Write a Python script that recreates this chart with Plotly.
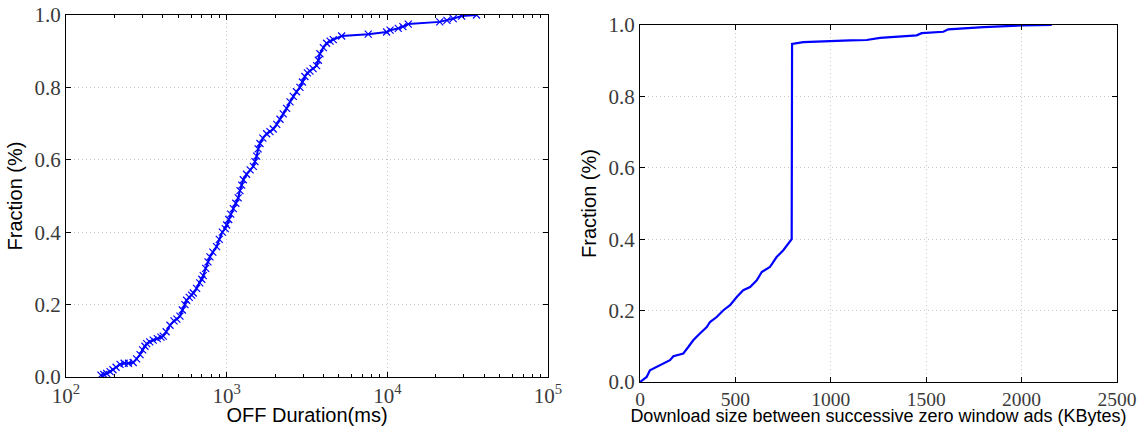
import plotly.graph_objects as go

# Left panel: CDF of OFF duration (ms), log x
off_ms = [165, 172, 179, 188, 196, 205, 217, 230, 245, 262, 275, 289, 300, 310, 318, 332, 349, 370,
          390, 403, 420, 444, 470, 490, 512, 530, 550, 563, 585, 605, 620, 650, 680, 700, 715, 740,
          765, 787, 820, 865, 900, 940, 980, 1000, 1030, 1060, 1100, 1140, 1180, 1210, 1240, 1270,
          1330, 1400, 1465, 1500, 1537, 1570, 1612, 1680, 1773, 1860, 1950, 2050, 2147, 2250, 2362,
          2480, 2598, 2720, 2858, 2960, 3069, 3180, 3298, 3450, 3630, 3720, 3805, 4000, 4188, 4400,
          4607, 5194, 7605, 9900, 10400, 11700, 12500, 13500, 21200, 23500, 25700, 29000, 35900]
off_frac = [0.005, 0.007, 0.010, 0.015, 0.020, 0.027, 0.035, 0.038, 0.038, 0.040, 0.050, 0.062, 0.075,
            0.085, 0.092, 0.097, 0.102, 0.106, 0.110, 0.113, 0.125, 0.143, 0.155, 0.160, 0.168, 0.185,
            0.200, 0.212, 0.220, 0.226, 0.232, 0.245, 0.260, 0.270, 0.280, 0.300, 0.318, 0.332, 0.345,
            0.360, 0.380, 0.400, 0.410, 0.420, 0.435, 0.450, 0.465, 0.480, 0.495, 0.515, 0.530, 0.545,
            0.560, 0.572, 0.582, 0.595, 0.610, 0.630, 0.645, 0.660, 0.672, 0.678, 0.685, 0.698, 0.712,
            0.727, 0.742, 0.760, 0.775, 0.788, 0.800, 0.815, 0.830, 0.840, 0.845, 0.852, 0.860, 0.875,
            0.893, 0.910, 0.922, 0.928, 0.932, 0.942, 0.947, 0.953, 0.958, 0.963, 0.968, 0.975, 0.981,
            0.985, 0.990, 0.997, 1.000]

# Right panel: CDF of download size between successive zero window ads (KBytes)
dl_kb = [0, 35, 52, 87, 122, 157, 175, 227, 253, 279, 314, 350, 367, 402, 437, 472, 507, 541, 577,
         612, 638, 681, 716, 751, 795, 797, 856, 996, 1101, 1188, 1206, 1258, 1450, 1476, 1590, 1616,
         1800, 2009, 2158]
dl_frac = [0.0, 0.014, 0.033, 0.042, 0.052, 0.061, 0.072, 0.080, 0.098, 0.117, 0.136, 0.154, 0.168,
           0.182, 0.201, 0.215, 0.238, 0.257, 0.266, 0.285, 0.308, 0.322, 0.350, 0.369, 0.400, 0.947,
           0.952, 0.956, 0.957, 0.958, 0.960, 0.964, 0.971, 0.977, 0.981, 0.988, 0.994, 0.999, 1.0]

y_ticks = [0.0, 0.2, 0.4, 0.6, 0.8, 1.0]
left_xticks = [100, 1000, 10000, 100000]
left_xtext = ["10<sup>2</sup>", "10<sup>3</sup>", "10<sup>4</sup>", "10<sup>5</sup>"]
left_minor = [m * d for d in (100, 1000, 10000) for m in range(2, 10)]
right_xticks = [0, 500, 1000, 1500, 2000, 2500]

BLUE = "#0000ff"
SERIF = "Liberation Serif, DejaVu Serif, serif"
SANS = "Liberation Sans, Arial, sans-serif"
tickfont = dict(family=SERIF, size=21, color="#3a3a3a")
tickfont_x2 = dict(family=SERIF, size=19.5, color="#3a3a3a")
titlefont = dict(family=SANS, size=20, color="#000000")
titlefont2 = dict(family=SANS, size=18, color="#000000")

fig = go.Figure()
fig.add_trace(go.Scatter(
    x=off_ms, y=off_frac, mode="lines+markers", xaxis="x", yaxis="y",
    line=dict(color=BLUE, width=2),
    marker=dict(symbol="x-thin", size=7, line=dict(color=BLUE, width=1.2)),
    showlegend=False))
fig.add_trace(go.Scatter(
    x=dl_kb, y=dl_frac, mode="lines", xaxis="x2", yaxis="y2",
    line=dict(color=BLUE, width=2.2), showlegend=False))

common = dict(showline=True, linecolor="#000000", linewidth=1, mirror="ticks",
              ticks="inside", ticklen=5, tickcolor="#000000",
              showgrid=True, gridcolor="#c8c8c8", griddash="1px,3px", gridwidth=1,
              zeroline=False, automargin=False)

fig.update_layout(
    width=1143, height=426,
    margin=dict(l=0, r=0, t=0, b=0),
    paper_bgcolor="white", plot_bgcolor="white",
    xaxis=dict(domain=[66 / 1143, 548 / 1143], type="log", range=[2, 5],
               tickvals=left_xticks, ticktext=left_xtext, anchor="y", tickfont=tickfont,
               minor=dict(tickvals=left_minor, ticks="inside", ticklen=3,
                          tickcolor="#000000", showgrid=False),
               title=dict(text="OFF Duration(ms)", font=titlefont, standoff=2),
               **common),
    yaxis=dict(domain=[(426 - 377) / 426, (426 - 15) / 426], range=[0, 1],
               tickvals=y_ticks, tickformat=".1f", anchor="x", tickfont=tickfont,
               title=dict(text="Fraction (%)", font=titlefont, standoff=6),
               **common),
    xaxis2=dict(domain=[640 / 1143, 1117 / 1143], range=[0, 2500],
                tickvals=right_xticks, anchor="y2", tickfont=tickfont_x2,
                title=dict(text="Download size between successive zero window ads (KBytes)",
                           font=titlefont2, standoff=4),
                **common),
    yaxis2=dict(domain=[(426 - 382) / 426, (426 - 25) / 426], range=[0, 1],
                tickvals=y_ticks, tickformat=".1f", anchor="x2", tickfont=tickfont,
                title=dict(text="Fraction (%)", font=titlefont, standoff=6),
                **common),
)

fig.write_html("out.html")
